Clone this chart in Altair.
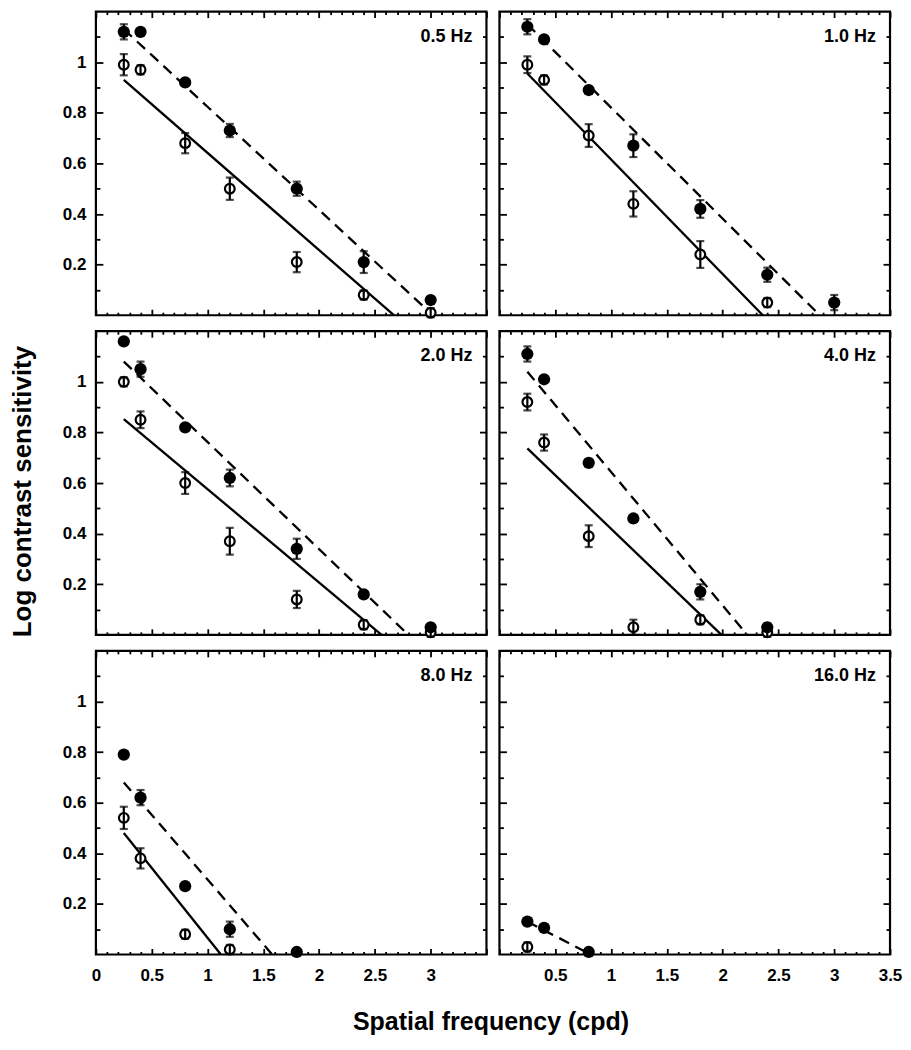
import altair as alt
import pandas as pd

# ---------------- data ----------------
PANEL_LABELS = ["0.5 Hz", "1.0 Hz", "2.0 Hz", "4.0 Hz", "8.0 Hz", "16.0 Hz"]

# 0.5 Hz
F05_X = [0.25, 0.4, 0.8, 1.2, 1.8, 2.4, 3.0]
F05_Y = [1.12, 1.12, 0.92, 0.73, 0.50, 0.21, 0.06]
F05_E = [0.03, 0.01, 0.012, 0.026, 0.028, 0.043, 0.012]
O05_X = [0.25, 0.4, 0.8, 1.2, 1.8, 2.4, 3.0]
O05_Y = [0.99, 0.97, 0.68, 0.50, 0.21, 0.08, 0.01]
O05_E = [0.042, 0.018, 0.04, 0.044, 0.04, 0.018, 0.018]
D05_X, D05_Y = [0.25, 3.02], [1.13, 0.0]
S05_X, S05_Y = [0.25, 2.67], [0.93, 0.0]

# 1.0 Hz
F10_X = [0.25, 0.4, 0.8, 1.2, 1.8, 2.4, 3.0]
F10_Y = [1.14, 1.09, 0.89, 0.67, 0.42, 0.16, 0.05]
F10_E = [0.03, 0.012, 0.012, 0.045, 0.035, 0.028, 0.03]
O10_X = [0.25, 0.4, 0.8, 1.2, 1.8, 2.4]
O10_Y = [0.99, 0.93, 0.71, 0.44, 0.24, 0.05]
O10_E = [0.033, 0.018, 0.045, 0.05, 0.053, 0.018]
D10_X, D10_Y = [0.25, 2.87], [1.15, 0.0]
S10_X, S10_Y = [0.25, 2.36], [0.955, 0.0]

# 2.0 Hz
F20_X = [0.25, 0.4, 0.8, 1.2, 1.8, 2.4, 3.0]
F20_Y = [1.16, 1.05, 0.82, 0.62, 0.34, 0.16, 0.03]
F20_E = [0.012, 0.03, 0.012, 0.033, 0.04, 0.012, 0.012]
O20_X = [0.25, 0.4, 0.8, 1.2, 1.8, 2.4, 3.0]
O20_Y = [1.00, 0.85, 0.60, 0.37, 0.14, 0.04, 0.01]
O20_E = [0.018, 0.033, 0.043, 0.053, 0.034, 0.018, 0.018]
D20_X, D20_Y = [0.25, 2.80], [1.08, 0.0]
S20_X, S20_Y = [0.25, 2.56], [0.853, 0.0]

# 4.0 Hz
F40_X = [0.25, 0.4, 0.8, 1.2, 1.8, 2.4]
F40_Y = [1.11, 1.01, 0.68, 0.46, 0.17, 0.03]
F40_E = [0.03, 0.012, 0.012, 0.012, 0.03, 0.015]
O40_X = [0.25, 0.4, 0.8, 1.2, 1.8, 2.4]
O40_Y = [0.92, 0.76, 0.39, 0.03, 0.06, 0.01]
O40_E = [0.033, 0.032, 0.043, 0.03, 0.018, 0.018]
D40_X, D40_Y = [0.25, 2.22], [1.04, 0.0]
S40_X, S40_Y = [0.25, 1.99], [0.737, 0.0]

# 8.0 Hz
F80_X = [0.25, 0.4, 0.8, 1.2, 1.8]
F80_Y = [0.79, 0.62, 0.27, 0.10, 0.01]
F80_E = [0.012, 0.03, 0.012, 0.03, 0.01]
O80_X = [0.25, 0.4, 0.8, 1.2]
O80_Y = [0.54, 0.38, 0.08, 0.02]
O80_E = [0.044, 0.04, 0.018, 0.018]
D80_X, D80_Y = [0.25, 1.58], [0.68, 0.0]
S80_X, S80_Y = [0.25, 1.12], [0.48, 0.0]

# 16.0 Hz
F160_X = [0.25, 0.4, 0.8]
F160_Y = [0.13, 0.105, 0.01]
F160_E = [0.012, 0.012, 0.01]
O160_X = [0.25]
O160_Y = [0.03]
O160_E = [0.018]
D160_X, D160_Y = [0.25, 0.82], [0.13, 0.0]
S160_X, S160_Y = [], []

# axis ticks
X_MAJOR = [0, 0.5, 1, 1.5, 2, 2.5, 3, 3.5]
X_MINOR = [round(i / 10, 1) for i in range(1, 35) if i % 5 != 0]
Y_MAJOR = [0.2, 0.4, 0.6, 0.8, 1.0]
Y_MINOR = [0.1, 0.3, 0.5, 0.7, 0.9, 1.1]

FONT = "Liberation Sans"
W, H = 391, 304

PANELS = [
    (F05_X, F05_Y, F05_E, O05_X, O05_Y, O05_E, D05_X, D05_Y, S05_X, S05_Y),
    (F10_X, F10_Y, F10_E, O10_X, O10_Y, O10_E, D10_X, D10_Y, S10_X, S10_Y),
    (F20_X, F20_Y, F20_E, O20_X, O20_Y, O20_E, D20_X, D20_Y, S20_X, S20_Y),
    (F40_X, F40_Y, F40_E, O40_X, O40_Y, O40_E, D40_X, D40_Y, S40_X, S40_Y),
    (F80_X, F80_Y, F80_E, O80_X, O80_Y, O80_E, D80_X, D80_Y, S80_X, S80_Y),
    (F160_X, F160_Y, F160_E, O160_X, O160_Y, O160_E, D160_X, D160_Y, S160_X, S160_Y),
]

xs = alt.Scale(domain=[0, 3.5], nice=False, zero=False)
ys = alt.Scale(domain=[0, 1.2], nice=False, zero=False)

TICK_COMMON = dict(domain=False, grid=False, tickColor="black", tickWidth=1.8, minExtent=0)
LABEL_COMMON = dict(labelFont=FONT, labelFontSize=17, labelFontWeight="bold",
                    labelColor="black", format="~g")


def make_panel(i, label, fx, fy, fe, ox, oy, oe, dx, dy, sx, sy):
    col, row = i % 2, i // 2
    left, bottom = col == 0, row == 2

    fdf = pd.DataFrame({"sf": fx, "val": fy, "err": fe})
    fdf["lo"] = fdf["val"] - fdf["err"]
    fdf["hi"] = fdf["val"] + fdf["err"]
    odf = pd.DataFrame({"sf": ox, "val": oy, "err": oe})
    odf["lo"] = odf["val"] - odf["err"]
    odf["hi"] = odf["val"] + odf["err"]

    X0 = alt.X("sf:Q", scale=xs, axis=None)
    Y0 = alt.Y("val:Q", scale=ys, axis=None)

    layers = []
    ddf = pd.DataFrame({"sf": dx, "val": dy})
    layers.append(alt.Chart(ddf).mark_line(color="black", strokeWidth=2.3, strokeDash=[11, 7])
                  .encode(x=X0, y=Y0))
    if len(sx):
        sdf = pd.DataFrame({"sf": sx, "val": sy})
        layers.append(alt.Chart(sdf).mark_line(color="black", strokeWidth=2.3)
                      .encode(x=X0, y=Y0))
    layers.append(alt.Chart(odf).mark_point(shape="circle", filled=True, fill="white",
                                            stroke="black", strokeWidth=2.2, size=95, opacity=1)
                  .encode(x=X0, y=Y0))
    layers.append(alt.Chart(fdf).mark_circle(color="black", size=150, opacity=1)
                  .encode(x=X0, y=Y0))
    for df in (odf, fdf):
        layers.append(alt.Chart(df).mark_errorbar(ticks=True, size=8, thickness=2.2, color="black")
                      .encode(x=alt.X("sf:Q", scale=xs, axis=None),
                              y=alt.Y("lo:Q", scale=ys, axis=None),
                              y2="hi:Q"))
    ldf = pd.DataFrame({"label": [label]})
    layers.append(alt.Chart(ldf).mark_text(align="right", baseline="middle", font=FONT,
                                           fontSize=18, fontWeight="bold", color="black")
                  .encode(text="label:N", x=alt.value(W - 14), y=alt.value(25)))

    # ---- axes (inward ticks on all four sides) ----
    lab_expr = "datum.value > 3.2 ? '' : datum.label" if left else "datum.value < 0.2 ? '' : datum.label"
    xb_major = dict(orient="bottom", values=X_MAJOR, tickSize=6, offset=-6, labels=bottom,
                    labelExpr=lab_expr, labelFlush=False, labelPadding=13, **TICK_COMMON, **LABEL_COMMON)
    if bottom and left:
        xb_major.update(title="Spatial frequency (cpd)", titleFont=FONT, titleFontSize=25,
                        titleFontWeight="bold", titleColor="black", titleX=395, titleY=61,
                        titleAlign="center", titleBaseline="top")
    else:
        xb_major.update(title=None)
    yl_major = dict(orient="left", values=Y_MAJOR, tickSize=7, offset=-7, labels=left,
                    labelPadding=10, **TICK_COMMON, **LABEL_COMMON)
    if left and row == 1:
        yl_major.update(title="Log contrast sensitivity", titleFont=FONT, titleFontSize=26,
                        titleFontWeight="bold", titleColor="black", titleX=-67, titleY=160,
                        titleAlign="center", titleBaseline="bottom", titleAngle=270)
    else:
        yl_major.update(title=None)

    axis_sets = [
        (alt.Axis(**xb_major), alt.Axis(**yl_major)),
        (alt.Axis(orient="bottom", values=X_MINOR, tickSize=3, offset=-3, labels=False, title=None, **TICK_COMMON),
         alt.Axis(orient="left", values=Y_MINOR, tickSize=4, offset=-4, labels=False, title=None, **TICK_COMMON)),
        (alt.Axis(orient="top", values=X_MAJOR, tickSize=6, offset=-6, labels=False, title=None, **TICK_COMMON),
         alt.Axis(orient="right", values=Y_MAJOR, tickSize=7, offset=-7, labels=False, title=None, **TICK_COMMON)),
        (alt.Axis(orient="top", values=X_MINOR, tickSize=3, offset=-3, labels=False, title=None, **TICK_COMMON),
         alt.Axis(orient="right", values=Y_MINOR, tickSize=4, offset=-4, labels=False, title=None, **TICK_COMMON)),
    ]
    for ax, ay in axis_sets:
        layers.append(alt.Chart(fdf).mark_point(opacity=0)
                      .encode(x=alt.X("sf:Q", scale=xs, axis=ax),
                              y=alt.Y("val:Q", scale=ys, axis=ay)))

    return (alt.layer(*layers)
            .resolve_axis(x="independent", y="independent")
            .properties(width=W, height=H))


panels = [make_panel(i, PANEL_LABELS[i], *PANELS[i]) for i in range(6)]

chart = (alt.concat(*panels, columns=2, spacing={"row": 16, "column": 13}, bounds="flush")
         .properties(padding={"left": 0, "top": 0, "right": 0, "bottom": 0}, background="white")
         .configure(font=FONT)
         .configure_view(stroke="black", strokeWidth=2.2))

chart.save("out.html", embed_options={"renderer": "svg", "actions": False})
